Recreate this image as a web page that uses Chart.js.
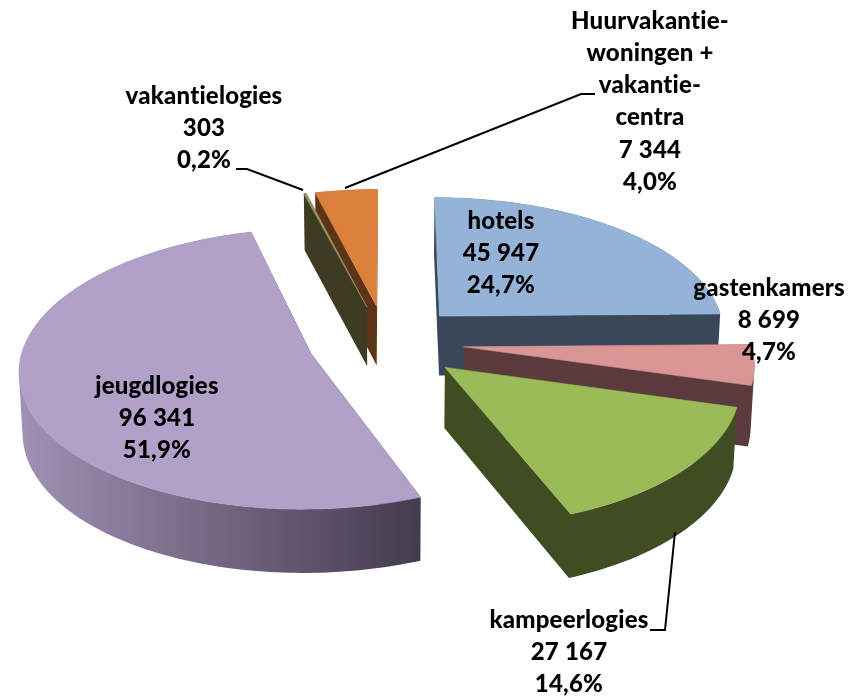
<!DOCTYPE html>
<html><head><meta charset="utf-8">
<style>html,body{margin:0;padding:0;background:#fff}#w{width:853px;height:700px;position:relative}</style>
<script src="https://cdn.jsdelivr.net/npm/chart.js@4"></script>
</head><body><div id="w"><canvas id="c" width="853" height="700"></canvas></div>
<script>
const categories = ['hotels','gastenkamers','kampeerlogies','jeugdlogies','vakantielogies','Huurvakantie-woningen + vakantie-centra'];
const values = [45947,8699,27167,96341,303,7344];
const valueLabels = ['45 947','8 699','27 167','96 341','303','7 344'];
const percentLabels = ['24,7%','4,7%','14,6%','51,9%','0,2%','4,0%'];
const topColors = ['#95B3D7','#D99694','#9BBB59','#B1A0C7','#9A9360','#DB813C'];
const sideStart = ['#3A4759','#5A3A3C','#404D22','#A090B4','#3F3A22','#5C3418'];
const sideEnd = ['#3A4759','#5A3A3C','#404D22','#443B4E','#3F3A22','#5C3418'];
const paintOrder = [0,1,2,3,5,4];

const view = {explode:78, tilt:0.475, distance:2700, depth:60, converge:0.99};
function project(cx,cy,X,Y,low){
  const s = view.distance/(view.distance-Y);
  const f = low ? view.converge : 1;
  return [cx + X*s*f, cy + view.tilt*Y*s + (low ? view.depth*Math.sqrt(s) : 0)];
}
function addPoly(ctx,pts){
  pts.forEach((p,k)=>k?ctx.lineTo(p[0],p[1]):ctx.moveTo(p[0],p[1]));ctx.closePath();
}
function signedArea(q){
  let s=0;q.forEach((p,k)=>{const r=q[(k+1)%q.length];s+=p[0]*r[1]-r[0]*p[1];});return s;
}
// Arc elements from the library's doughnut layout are drawn as exploded extruded wedges
Chart.PieController.prototype.draw = function(){
  const arcs=this._cachedMeta.data;
  paintOrder.forEach(i=>arcs[i].draw(this.chart.ctx));
};
Chart.ArcElement.prototype.draw = function(ctx){
  const i = this.$context.dataIndex;
  const {x,y,startAngle:a0,endAngle:a1,outerRadius:R} = this.getProps(['x','y','startAngle','endAngle','outerRadius']);
  const mid=(a0+a1)/2, ox=Math.cos(mid)*view.explode, oy=Math.sin(mid)*view.explode;
  const plane=[[ox,oy]];
  const n=Math.max(4,Math.ceil((a1-a0)/0.02));
  for(let k=0;k<=n;k++){const a=a0+(a1-a0)*k/n;plane.push([ox+R*Math.cos(a),oy+R*Math.sin(a)]);}
  const up=plane.map(p=>project(x,y,p[0],p[1],false));
  const lo=plane.map(p=>project(x,y,p[0],p[1],true));
  const xs=lo.map(p=>p[0]);
  const g=ctx.createLinearGradient(Math.min(...xs),0,Math.max(...xs),0);
  g.addColorStop(0,sideStart[i]);g.addColorStop(1,sideEnd[i]);
  ctx.save();
  ctx.fillStyle=g;
  ctx.beginPath();
  for(let k=0;k<up.length;k++){
    const m=(k+1)%up.length;
    const q=[up[k],up[m],lo[m],lo[k]];
    addPoly(ctx,signedArea(q)<0?q.slice().reverse():q);
  }
  ctx.fill();
  ctx.fillStyle=topColors[i];ctx.strokeStyle=topColors[i];ctx.lineWidth=0.6;ctx.lineJoin='round';
  ctx.beginPath();addPoly(ctx,up);ctx.fill();ctx.stroke();
  ctx.restore();
};

const labelLayout = [
  {x:501,y:221,lines:['hotels']},
  {x:769,y:288,lines:['gastenkamers']},
  {x:569,y:620,lines:['kampeerlogies']},
  {x:157,y:386,lines:['jeugdlogies']},
  {x:204,y:96,lines:['vakantielogies']},
  {x:650,y:21,lines:['Huurvakantie-','woningen +','vakantie-','centra']}
];
const leaders = [
  [[236,169],[247,169],[303,190]],
  [[345,188],[581,94],[595,94]],
  [[675,532],[665,630],[650,630]]
];
const labelPlugin = {
  id:'labels3d',
  afterDatasetsDraw(chart){
    const ctx=chart.ctx;ctx.save();
    ctx.strokeStyle='#000';ctx.lineWidth=2;
    leaders.forEach(l=>{ctx.beginPath();l.forEach((p,k)=>k?ctx.lineTo(p[0],p[1]):ctx.moveTo(p[0],p[1]));ctx.stroke();});
    ctx.fillStyle='#000';ctx.font='900 24px Lato';ctx.letterSpacing='0.2px';ctx.textAlign='center';ctx.textBaseline='middle';
    labelLayout.forEach((l,i)=>{
      const rows=[...l.lines,valueLabels[i],percentLabels[i]];
      rows.forEach((t,k)=>ctx.fillText(t,l.x,l.y+k*32.2));
    });
    ctx.restore();
  }
};
new Chart(document.getElementById('c'),{
  type:'pie',
  data:{labels:categories,datasets:[{data:values,backgroundColor:topColors,borderWidth:0,clip:false}]},
  options:{
    responsive:false,animation:false,radius:287,
    layout:{padding:{left:0,top:0,right:81,bottom:16}},
    plugins:{legend:{display:false},tooltip:{enabled:false},title:{display:false}}
  },
  plugins:[labelPlugin]
});
</script></body></html>
